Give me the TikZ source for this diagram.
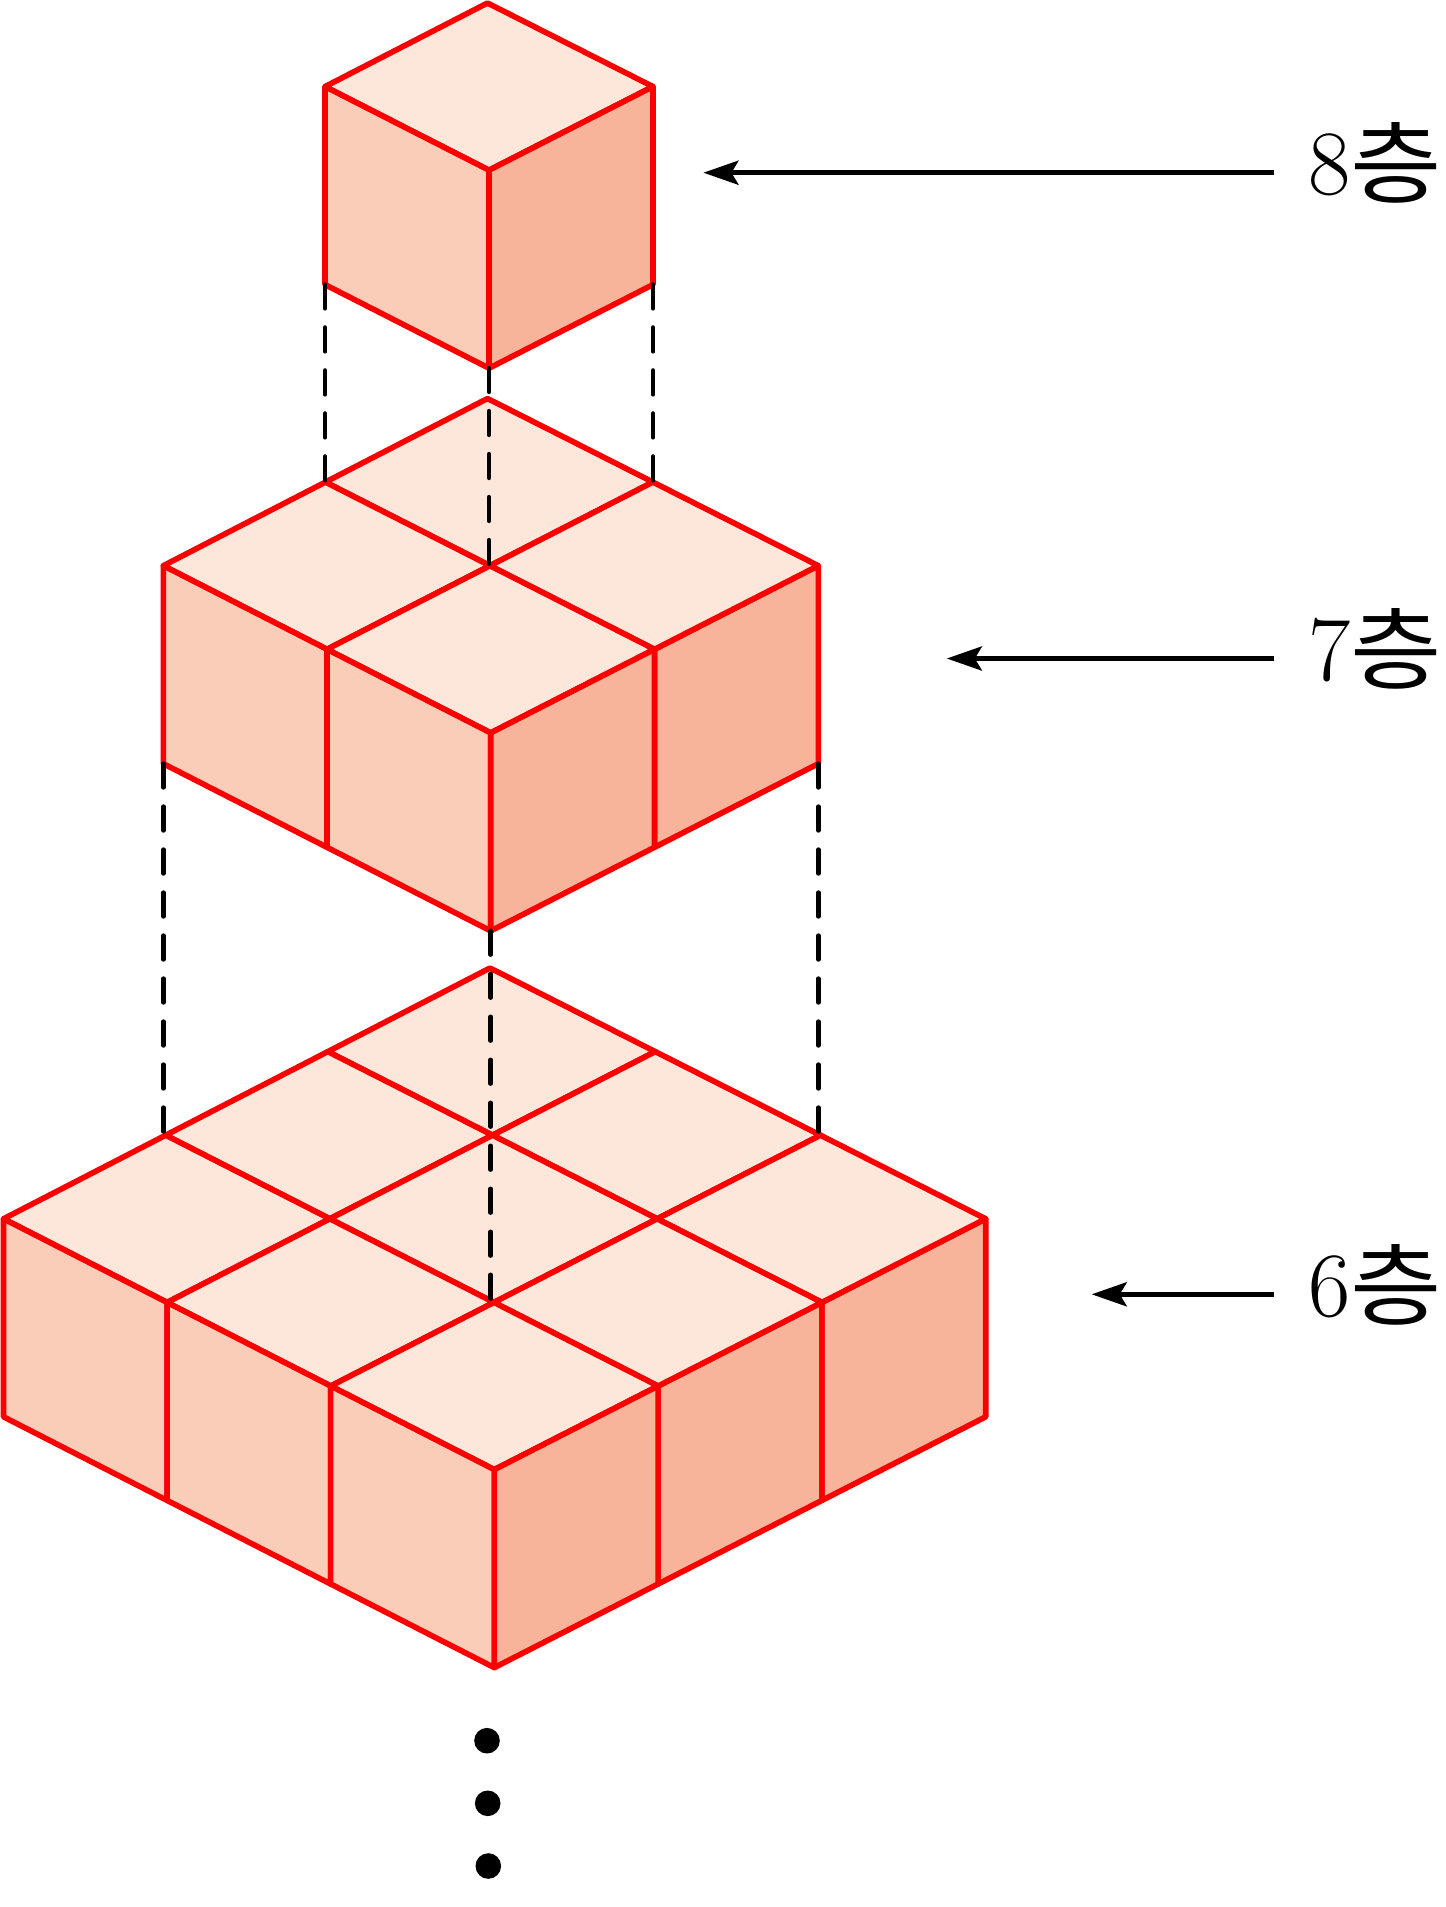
\documentclass[tikz,border=0pt]{standalone}
\usepackage{fontspec}
\usepackage{xcolor}
\usetikzlibrary{arrows.meta}
\newfontfamily\koreanfont{Noto Sans CJK KR}
\definecolor{topface}{HTML}{FDE6DA}
\definecolor{leftface}{HTML}{FACDB9}
\definecolor{rightface}{HTML}{F7B49A}
\definecolor{edgered}{HTML}{FA0000}
\tikzset{
    face/.style={draw=edgered,line width=2.8pt,line join=round},
    guide/.style={draw=black,line width=2.4pt,line cap=round,dash pattern=on 11.8pt off 9.7pt},
    pointer/.style={draw=black,line width=2.4pt,-{Stealth[length=17.5pt,width=12pt,inset=3.5pt]}},
    floorlabel/.style={anchor=base west,inner ysep=0pt,inner xsep=16.85pt,font=\fontsize{46}{50}\selectfont},
    dotmark/.style={circle,fill=black,inner sep=0pt,minimum size=12.8pt}
}
\newcommand{\floortext}[1]{#1\raisebox{-1pt}{\scalebox{1.08}[0.97]{\koreanfont 층}}}
% name, cells per side, x of apex, left, right and front corner, y of the apex
\newcommand{\drawlayer}[7]{
    \pgfmathtruncatemacro{\lastcell}{#2-1}
    \foreach \i in {0,...,#2}{
        \foreach \j in {0,...,#2}{
            \pgfmathsetmacro{\cx}{(1-\i/#2)*(1-\j/#2)*#3+(1-\i/#2)*\j/#2*#4+\i/#2*(1-\j/#2)*#5+\i/#2*\j/#2*#6}
            \coordinate (#1-\i-\j) at (\cx,{#7+(\i+\j)*83.6});
            \coordinate (#1-\i-\j-b) at (\cx,{#7+(\i+\j)*83.6+198});
        }
    }
    \foreach \i [evaluate=\i as \ii using int(\i+1)] in {0,...,\lastcell}{
        \foreach \j [evaluate=\j as \jj using int(\j+1)] in {0,...,\lastcell}{
            \draw[face,fill=topface] (#1-\i-\j) -- (#1-\ii-\j) -- (#1-\ii-\jj) -- (#1-\i-\jj) -- cycle;
        }
        \draw[face,fill=leftface] (#1-\i-#2) -- (#1-\ii-#2) -- (#1-\ii-#2-b) -- (#1-\i-#2-b) -- cycle;
        \draw[face,fill=rightface] (#1-#2-\i) -- (#1-#2-\ii) -- (#1-#2-\ii-b) -- (#1-#2-\i-b) -- cycle;
    }
}
\begin{document}
\begin{tikzpicture}[x=0.5pt,y=-0.5pt]
    \useasboundingbox (0,0) rectangle (1446,1907);
    % layers, from the bottom up
    \drawlayer{six}{3}{490}{3.5}{985.7}{494.3}{968}
    \drawlayer{seven}{2}{487.5}{163.3}{818.3}{490.7}{398.5}
    \drawlayer{eight}{1}{487.5}{325}{653}{489}{3}
    % guides between the layers
    \draw[guide] (eight-0-1-b) -- (eight-0-1-b |- seven-0-1);
    \draw[guide] (eight-1-1-b) -- (eight-1-1-b |- seven-1-1);
    \draw[guide] (eight-1-0-b) -- (eight-1-0-b |- seven-1-0);
    \draw[guide] (seven-0-2-b) -- (seven-0-2-b |- six-0-2);
    \draw[guide] (seven-2-2-b) -- (seven-2-2-b |- six-2-2);
    \draw[guide] (seven-2-0-b) -- (seven-2-0-b |- six-2-0);
    % floor labels
    \node[floorlabel] (label8) at (1274.3,194.5) {\floortext{8}};
    \node[floorlabel] (label7) at (1274.3,680.5) {\floortext{7}};
    \node[floorlabel] (label6) at (1274.3,1316) {\floortext{6}};
    \coordinate (tip8) at (703.4,172.7);
    \coordinate (tip7) at (946.8,658.5);
    \coordinate (tip6) at (1091.7,1294.3);
    \draw[pointer] (label8.west |- tip8) -- (tip8);
    \draw[pointer] (label7.west |- tip7) -- (tip7);
    \draw[pointer] (label6.west |- tip6) -- (tip6);
    % dots
    \node[dotmark] (dot1) at (487,1740.7) {};
    \node[dotmark] (dot2) at (487.7,1803.3) {};
    \node[dotmark] (dot3) at (488.3,1866) {};
\end{tikzpicture}
\end{document}
